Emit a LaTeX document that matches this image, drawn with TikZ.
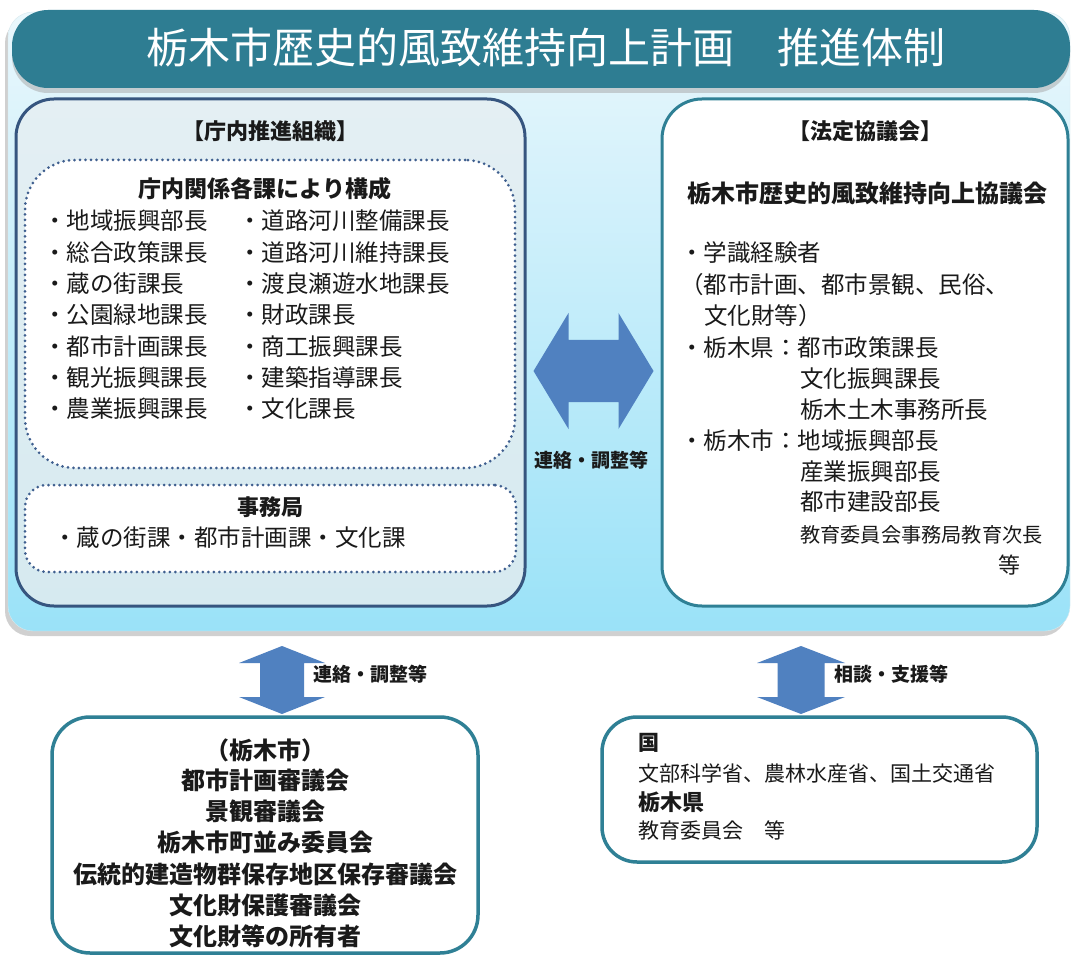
\documentclass[tikz,border=0pt]{standalone}
\usepackage{fontspec}
\setmainfont{Noto Sans CJK JP}
\usetikzlibrary{calc}
\definecolor{tealbar}{HTML}{2E7D92}
\definecolor{tealline}{HTML}{2F8095}
\definecolor{navyline}{HTML}{36557F}
\definecolor{dotcol}{HTML}{3F5F8F}
\definecolor{pantop}{HTML}{EAF7FC}
\definecolor{panbot}{HTML}{9AE2F8}
\definecolor{lbtop}{HTML}{E4EFF3}
\definecolor{lbbot}{HTML}{D6EAF0}
\definecolor{arrowblue}{HTML}{5081C0}
\definecolor{ink}{HTML}{1A1A1A}
\newcommand\myfs[1]{\fontsize{#1}{#1}\selectfont}
\tikzset{
  txt/.style={inner sep=0pt, text=ink, font=\myfs{23.5}},
  btxt/.style={inner sep=0pt, text=ink, font=\myfs{23}\bfseries},
  lbox/.style={draw=navyline, line width=3pt, rounded corners=38pt, top color=lbtop, bottom color=lbbot, inner sep=0pt},
  rbox/.style={draw=tealline, line width=3pt, rounded corners=40pt, fill=white, inner sep=0pt},
  dotbox/.style={draw=dotcol, fill=white, line width=3pt, dash pattern=on 0pt off 5.5pt, line cap=round, inner sep=0pt},
  blockarrow/.style={fill=arrowblue},
  lab/.style={inner sep=0pt, text=ink, font=\myfs{19}\bfseries},
}
\begin{document}
\begin{tikzpicture}[x=1pt,y=-1pt]
\useasboundingbox (0,0) rectangle (1073,957);
\fill[white] (0,0) rectangle (1073,957);
% outer panel
\fill[black!30, opacity=0.6, rounded corners=25pt] (5,18) rectangle (1067,636);
\shade[top color=pantop, bottom color=panbot, rounded corners=25pt, draw=panbot!80!black!30] (8,12) rectangle (1070,631);
% title bar
\fill[black!35, opacity=0.5, rounded corners=36pt] (12,14) rectangle (1070,93);
\node[fill=tealbar, rounded corners=36pt, minimum width=1058pt, minimum height=78pt, inner sep=0pt] (T) at (541,49) {};
\node[inner sep=0pt, text=white, font=\myfs{42}] (Tt) at (546,48) {栃木市歴史的風致維持向上計画\hspace{44pt}推進体制};

% left box
\node[lbox, minimum width=509pt, minimum height=507pt] (L) at (270.5,352.5) {};
\node[btxt, font=\myfs{22}\bfseries] (Lh) at (270,131) {【庁内推進組織】};
\node[dotbox, rounded corners=50pt, minimum width=490pt, minimum height=308pt] (D1) at (270,314) {};
\node[dotbox, rounded corners=22pt, minimum width=491pt, minimum height=87pt] (D2) at (270.5,528.5) {};
\node[btxt] (Ls) at (265,189) {庁内関係各課により構成};
\node[txt, anchor=west] (a1) at (43,221) {・地域振興部長};
\node[txt, anchor=west] (a2) at (43,252.3) {・総合政策課長};
\node[txt, anchor=west] (a3) at (43,283.6) {・蔵の街課長};
\node[txt, anchor=west] (a4) at (43,314.9) {・公園緑地課長};
\node[txt, anchor=west] (a5) at (43,346.2) {・都市計画課長};
\node[txt, anchor=west] (a6) at (43,377.5) {・観光振興課長};
\node[txt, anchor=west] (a7) at (43,408.8) {・農業振興課長};
\node[txt, anchor=west] (b1) at (238,221) {・道路河川整備課長};
\node[txt, anchor=west] (b2) at (238,252.3) {・道路河川維持課長};
\node[txt, anchor=west] (b3) at (238,283.6) {・渡良瀬遊水地課長};
\node[txt, anchor=west] (b4) at (238,314.9) {・財政課長};
\node[txt, anchor=west] (b5) at (238,346.2) {・商工振興課長};
\node[txt, anchor=west] (b6) at (238,377.5) {・建築指導課長};
\node[txt, anchor=west] (b7) at (238,408.8) {・文化課長};
\node[btxt, font=\myfs{22}\bfseries] (Jm) at (270,507) {事務局};
\node[txt, anchor=west] (Jl) at (53,538) {・蔵の街課・都市計画課・文化課};

% right box
\node[rbox, minimum width=406pt, minimum height=507pt] (R) at (865,352.5) {};
\node[btxt, font=\myfs{22}\bfseries] (Rh) at (865,131) {【法定協議会】};
\node[btxt, font=\myfs{24}\bfseries] (Rs) at (867,193) {栃木市歴史的風致維持向上協議会};
\node[txt, anchor=west] (r1) at (680,253) {・学識経験者};
\node[txt, anchor=west] (r2) at (680,285) {（都市計画、都市景観、民俗、};
\node[txt, anchor=west] (r3) at (704,316) {文化財等）};
\node[txt, anchor=west] (r4) at (680,348) {・栃木県：都市政策課長};
\node[txt, anchor=west] (r5) at (800,379) {文化振興課長};
\node[txt, anchor=west] (r6) at (800,410) {栃木土木事務所長};
\node[txt, anchor=west] (r7) at (680,441) {・栃木市：地域振興部長};
\node[txt, anchor=west] (r8) at (800,472) {産業振興部長};
\node[txt, anchor=west] (r9) at (800,502) {都市建設部長};
\node[txt, anchor=west, font=\myfs{20.2}] (r10) at (800,535) {教育委員会事務局教育次長};
\node[txt, anchor=west, font=\myfs{22}] (r11) at (998,565) {等};

% horizontal double arrow between the two upper boxes
\coordinate (HA) at ($(L.east)!0.5!(R.west)+(0,18.5)$);
\fill[blockarrow, shift={(HA)}] (-60,0) -- (-25,-58) -- (-25,-31) -- (25,-31) -- (25,-58) -- (60,0) -- (25,58) -- (25,31) -- (-25,31) -- (-25,58) -- cycle;
\node[lab] (HAl) at (591,460) {連絡・調整等};

% bottom left box
\node[rbox, line width=3.5pt, rounded corners=38pt, minimum width=426pt, minimum height=236pt] (BL) at (265,835) {};
\node[btxt, font=\myfs{24}\bfseries] (c1) at (265,750) {（栃木市）};
\node[btxt, font=\myfs{24}\bfseries] (c2) at (265,780.5) {都市計画審議会};
\node[btxt, font=\myfs{24}\bfseries] (c3) at (265,811.5) {景観審議会};
\node[btxt, font=\myfs{24}\bfseries] (c4) at (265,842.5) {栃木市町並み委員会};
\node[btxt, font=\myfs{24}\bfseries] (c5) at (265,874) {伝統的建造物群保存地区保存審議会};
\node[btxt, font=\myfs{24}\bfseries] (c6) at (265,905) {文化財保護審議会};
\node[btxt, font=\myfs{24}\bfseries] (c7) at (265,936) {文化財等の所有者};

% bottom right box
\node[rbox, line width=3.5pt, rounded corners=35pt, minimum width=435pt, minimum height=145pt] (BR) at (819.5,789.5) {};
\node[btxt, anchor=west, font=\myfs{21}\bfseries] (d1) at (638,743) {国};
\node[txt, anchor=west, font=\myfs{21}] (d2) at (638,774) {文部科学省、農林水産省、国土交通省};
\node[btxt, anchor=west, font=\myfs{22}\bfseries] (d3) at (638,802) {栃木県};
\node[txt, anchor=west, font=\myfs{21}] (d4) at (638,830) {教育委員会　等};

% vertical double arrows
\coordinate (VL) at (282,680);
\fill[blockarrow, shift={(VL)}] (0,-34) -- (43,-17) -- (22,-17) -- (22,17) -- (43,17) -- (0,34) -- (-43,17) -- (-22,17) -- (-22,-17) -- (-43,-17) -- cycle;
\node[lab] (VLl) at (370,674) {連絡・調整等};
\coordinate (VR) at (801,680);
\fill[blockarrow, shift={(VR)}] (0,-34) -- (44,-17) -- (23.5,-17) -- (23.5,17) -- (44,17) -- (0,34) -- (-44,17) -- (-23.5,17) -- (-23.5,-17) -- (-44,-17) -- cycle;
\node[lab] (VRl) at (891,674) {相談・支援等};
\end{tikzpicture}
\end{document}
